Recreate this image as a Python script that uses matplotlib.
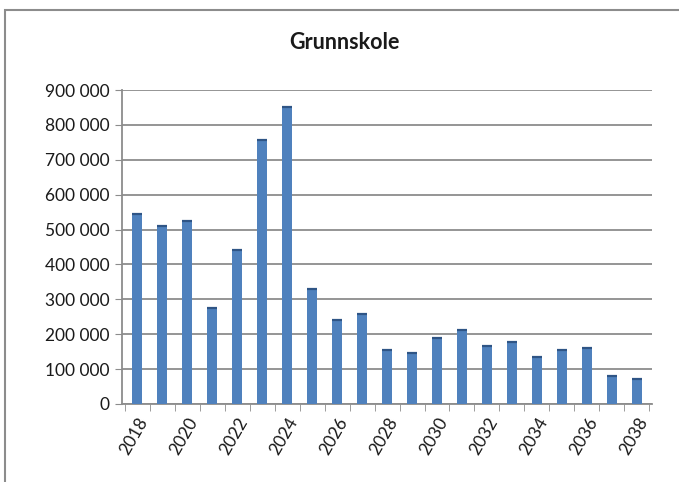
import matplotlib.pyplot as plt
import numpy as np
from matplotlib.patches import Rectangle
from matplotlib.ticker import FuncFormatter

years = list(range(2018, 2039))
values = [546000, 511000, 525000, 276000, 441000, 757000, 853000, 331000,
          240000, 259000, 156000, 146000, 190000, 212000, 167000, 179000,
          136000, 155000, 159000, 80000, 72000]
yticks = [0, 100000, 200000, 300000, 400000, 500000, 600000, 700000, 800000, 900000]

plt.rcParams['font.family'] = ['Lato', 'DejaVu Sans']

fig = plt.figure(figsize=(6.79, 4.82), dpi=100)
fig.patches.append(Rectangle((5 / 679, -0.1), 1.2, 1.1 - 10 / 482, transform=fig.transFigure,
                             fill=False, edgecolor='#8c8c8c', linewidth=1.5, zorder=0))

ax = fig.add_axes([0.18, 0.162, 0.78, 0.651])
x = np.arange(len(years))
bw = 0.42
ax.bar(x, values, width=bw, color='#4f81bd', zorder=3)
# darker top edge of each column
ax.hlines(values, x - bw / 2, x + bw / 2, color='#2f5586', linewidth=1.6, zorder=4)

ax.set_ylim(0, 900000)
ax.set_xlim(-0.6, len(years) - 0.4)
ax.set_yticks(yticks)
ax.yaxis.set_major_formatter(FuncFormatter(lambda v, p: f"{v:,.0f}".replace(",", " ")))
ax.grid(axis='y', color='#8c8c8c', linewidth=1.3, zorder=0)

ax.set_xticks(x[::2])
ax.set_xticklabels([str(y) for y in years[::2]], rotation=60, ha='right',
                   rotation_mode='anchor')
ax.set_xticks(np.arange(-0.5, len(years), 1), minor=True)
ax.tick_params(axis='x', which='major', length=0, pad=8, labelsize=12.5, colors='#1a1a1a')
ax.tick_params(axis='x', which='minor', length=5, color='#8c8c8c', direction='out')
ax.tick_params(axis='y', length=5, color='#8c8c8c', labelsize=12.5, labelcolor='#1a1a1a', pad=4)

for side in ['top', 'right']:
    ax.spines[side].set_visible(False)
for side in ['left', 'bottom']:
    ax.spines[side].set_color('#8c8c8c')
    ax.spines[side].set_linewidth(1.3)

fig.text(0.508, 0.912, 'Grunnskole', ha='center', va='center', fontsize=15.5,
         fontweight='bold', color='#1a1a1a')

fig.savefig('out.png', dpi=100)
